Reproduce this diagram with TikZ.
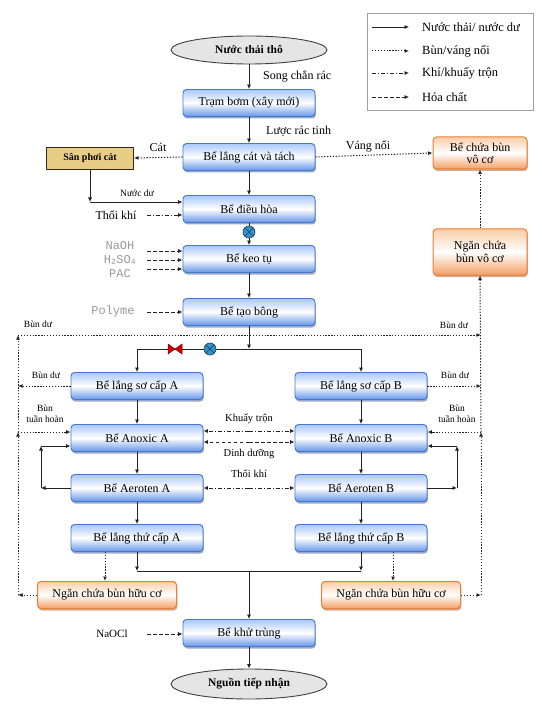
\documentclass[tikz,border=0pt]{standalone}
\usepackage{fontspec}
\setmainfont{Liberation Serif}
\newfontfamily\monofont{Liberation Mono}
\usetikzlibrary{arrows.meta,shapes.geometric,shadows,calc}
\definecolor{bxborder}{RGB}{70,120,205}
\definecolor{bxtop}{RGB}{170,200,250}
\definecolor{bxbot}{RGB}{100,150,232}
\definecolor{orborder}{RGB}{232,128,56}
\definecolor{ortop}{RGB}{250,205,168}
\definecolor{orbot}{RGB}{243,160,100}
\definecolor{sand}{RGB}{232,205,135}
\definecolor{lineclr}{RGB}{35,35,35}
\definecolor{mixfill}{RGB}{40,150,215}
\begin{document}
\begin{tikzpicture}[x=1pt,y=-1pt,
  font=\fontsize{12}{13}\selectfont,
  arr/.style={-{Latex[length=4.5pt,width=4pt]}},
  plain/.style={draw=lineclr,line width=0.75pt},
  flow/.style={plain,arr},
  sludge/.style={draw=lineclr,line width=1pt,dash pattern=on 1.3pt off 1.6pt,arr},
  gas/.style={draw=lineclr,line width=0.75pt,dash pattern=on 4pt off 2pt on 1pt off 2pt,arr},
  chem/.style={draw=lineclr,line width=0.75pt,dash pattern=on 3.5pt off 2.5pt,arr},
  tank/.style={rectangle,rounded corners=3.5pt,draw=bxborder,line width=0.9pt,
    top color=bxtop,bottom color=bxbot,middle color=white,
    minimum width=132pt,minimum height=27pt,inner sep=1pt,
    drop shadow={shadow xshift=0.8pt,shadow yshift=-2pt,fill=bxborder!70!black,opacity=0.5}},
  otank/.style={rectangle,rounded corners=3.5pt,draw=orborder,line width=1pt,
    top color=ortop,bottom color=orbot,middle color=white,align=center,inner sep=1pt,
    font=\fontsize{12}{12.5}\selectfont,
    drop shadow={shadow xshift=0.8pt,shadow yshift=-2pt,fill=orborder!70!black,opacity=0.5}},
  term/.style={ellipse,draw=black!75,line width=0.9pt,fill=gray!20,inner sep=0pt,
    font=\fontsize{11.5}{12}\selectfont\bfseries},
  small/.style={font=\fontsize{9.5}{10.5}\selectfont,inner sep=1pt},
  chemlbl/.style={font=\fontsize{12}{13}\monofont,text=gray!80,inner sep=1pt},
  lbl/.style={inner sep=1pt},
  legtext/.style={anchor=west,font=\fontsize{12.5}{13}\selectfont,inner sep=1pt},
  mixer/.pic={\fill[mixfill] (0,0) circle (6pt);
    \draw[black!80,line width=0.6pt] (0,0) circle (6pt);
    \draw[black!80,line width=0.6pt] (-4.2,-4.2) -- (4.2,4.2) (-4.2,4.2) -- (4.2,-4.2);},
  valve/.pic={\filldraw[fill=red!85!black,draw=red!45!black,line width=0.5pt]
    (-7,-5) -- (0,0) -- (-7,5) -- cycle (7,-5) -- (0,0) -- (7,5) -- cycle;}
]
\useasboundingbox (0,0) rectangle (541,708);

% ---------- legend ----------
\node[draw=gray!75,line width=1.4pt,minimum width=166pt,minimum height=97pt,anchor=north west,inner sep=0pt] (leg) at (367,13) {};
\coordinate (la1) at (372,27); \coordinate (lb1) at (409,27);
\coordinate (la2) at (372,51); \coordinate (lb2) at (409,51);
\coordinate (la3) at (372,73); \coordinate (lb3) at (409,73);
\coordinate (la4) at (372,97); \coordinate (lb4) at (409,97);
\draw[flow] (la1) -- (lb1);
\draw[sludge] (la2) -- (lb2);
\draw[gas] (la3) -- (lb3);
\draw[chem] (la4) -- (lb4);
\node[legtext] (lt1) at (421,27) {Nước thải/ nước dư};
\node[legtext] (lt2) at (421,51) {Bùn/váng nổi};
\node[legtext] (lt3) at (421,73) {Khí/khuấy trộn};
\node[legtext] (lt4) at (421,97) {Hóa chất};

% ---------- main column ----------
\node[term,minimum width=156pt,minimum height=28pt] (src) at (249,50) {Nước thải thô};
\node[tank] (tb) at (249,103) {Trạm bơm (xây mới)};
\node[tank] (lc) at (249,157) {Bể lắng cát và tách};
\node[tank] (dh) at (249,209) {Bể điều hòa};
\node[tank] (kt) at (249,259) {Bể keo tụ};
\node[tank] (tbg) at (249,312) {Bể tạo bông};
\node[tank] (kh) at (249,633) {Bể khử trùng};
\node[term,minimum width=156pt,minimum height=30pt] (out) at (249,684) {Nguồn tiếp nhận};

% side boxes
\node[rectangle,draw=black!70!brown,line width=0.9pt,fill=sand,minimum width=87pt,minimum height=22pt,inner sep=1pt,
  font=\fontsize{10}{11}\selectfont\bfseries,
  drop shadow={shadow xshift=0.8pt,shadow yshift=-1.5pt,fill=black!50,opacity=0.4}] (spc) at (90,158) {Sân phơi cát};
\node[otank,minimum width=94pt,minimum height=32pt] (bcb) at (480,153) {Bể chứa bùn\\vô cơ};
\node[otank,minimum width=94pt,minimum height=46pt] (ncv) at (480,252) {Ngăn chứa\\bùn vô cơ};

% ---------- two lines ----------
\node[tank] (lsA) at (137,386) {Bể lắng sơ cấp A};
\node[tank] (anA) at (137,438) {Bể Anoxic A};
\node[tank] (aeA) at (137,488) {Bể Aeroten A};
\node[tank] (ltA) at (137,538) {Bể lắng thứ cấp A};
\node[tank] (lsB) at (361,386) {Bể lắng sơ cấp B};
\node[tank] (anB) at (361,438) {Bể Anoxic B};
\node[tank] (aeB) at (361,488) {Bể Aeroten B};
\node[tank] (ltB) at (361,538) {Bể lắng thứ cấp B};
\node[otank,minimum width=139pt,minimum height=27pt] (ngA) at (107,595) {Ngăn chứa bùn hữu cơ};
\node[otank,minimum width=139pt,minimum height=27pt] (ngB) at (391,595) {Ngăn chứa bùn hữu cơ};

% ---------- main flow ----------
\draw[flow] (src) -- (tb);
\node[lbl,anchor=west] (l1) at (262,76) {Song chắn rác};
\draw[flow] (tb) -- (lc);
\node[lbl,anchor=west] (l2) at (265,131) {Lược rác tinh};
\draw[sludge] (lc.west) -- (spc.east);
\node[lbl] (l3) at (158,147) {Cát};
\draw[sludge] (lc.east) -- (bcb.west);
\node[lbl] (l4) at (368,146) {Váng nổi};
\draw[flow] (lc) -- (dh);
\coordinate (c1) at (90,202);
\draw[flow] (spc.south) -- (c1);
\draw[flow] (c1) -- (c1 -| dh.west);
\node[small] (l5) at (137,193) {Nước dư};
\coordinate (g1) at (147,215);
\draw[gas] (g1) -- (g1 -| dh.west);
\node[lbl] (l6) at (116,215) {Thổi khí};
\draw[flow] (dh) -- (kt);
\pic at (249,232) {mixer};
% chemicals
\coordinate (h1) at (147,251); \coordinate (h2) at (147,260); \coordinate (h3) at (147,269);
\draw[chem] (h1) -- (h1 -| kt.west);
\draw[chem] (h2) -- (h2 -| kt.west);
\draw[chem] (h3) -- (h3 -| kt.west);
\node[chemlbl] (naoh) at (120,246) {NaOH};
\node[chemlbl] (h2so4) at (120,260) {H\textsubscript{2}SO\textsubscript{4}};
\node[chemlbl] (pac) at (120,274) {PAC};
\draw[flow] (kt) -- (tbg);
\coordinate (p1) at (147,312);
\draw[chem] (p1) -- (p1 -| tbg.west);
\node[chemlbl] (poly) at (113,311) {Polyme};

% split
\coordinate (j1) at (249,349);
\coordinate (jA) at (137,349);
\coordinate (jB) at (361,349);
\draw[flow] (tbg) -- (j1);
\draw[plain] (jA) -- (jB);
\draw[flow] (jA) -- (lsA);
\draw[flow] (jB) -- (lsB);
\pic at (175,349) {valve};
\pic at (210,349) {mixer};

% line A / B vertical flow
\draw[flow] (lsA) -- (anA);
\draw[flow] (anA) -- (aeA);
\draw[flow] (aeA) -- (ltA);
\draw[flow] (lsB) -- (anB);
\draw[flow] (anB) -- (aeB);
\draw[flow] (aeB) -- (ltB);

% internal recirculation
\coordinate (rA1) at (41,488); \coordinate (rA2) at (41,446);
\draw[flow] (aeA.west) -- (rA1);
\draw[flow] (rA1) -- (rA2);
\draw[flow] (rA2) -- (rA2 -| anA.west);
\coordinate (rB1) at (457,488); \coordinate (rB2) at (457,446);
\draw[flow] (aeB.east) -- (rB1);
\draw[flow] (rB1) -- (rB2);
\draw[flow] (rB2) -- (rB2 -| anB.east);

% exchanges between lines
\coordinate (m1) at (249,431); \coordinate (m2) at (249,442); \coordinate (m3) at (249,488);
\draw[gas] (m1) -- (m1 -| anA.east);
\draw[gas] (m1) -- (m1 -| anB.west);
\draw[chem] (m2) -- (m2 -| anA.east);
\draw[chem] (m2) -- (m2 -| anB.west);
\draw[gas] (m3) -- (m3 -| aeA.east);
\draw[gas] (m3) -- (m3 -| aeB.west);
\node[lbl,font=\fontsize{10.5}{11}\selectfont] (l7) at (249,419) {Khuấy trộn};
\node[lbl,font=\fontsize{10.5}{11}\selectfont] (l8) at (249,454) {Dinh dưỡng};
\node[lbl,font=\fontsize{10.5}{11}\selectfont] (l9) at (249,474) {Thổi khí};

% sludge network
\coordinate (sL0) at (18,595); \coordinate (sL1) at (18,432); \coordinate (sL2) at (18,335);
\coordinate (sL3) at (18,386);
\coordinate (sR0) at (481,595); \coordinate (sR1) at (481,432); \coordinate (sR2) at (481,335);
\coordinate (sR3) at (481,386);
\draw[sludge] (ngA.west) -- (sL0);
\draw[sludge] (sL0) -- (sL1);
\draw[sludge] (sL1) -- (sL2);
\draw[sludge] (sL2) -- (sR2);
\draw[sludge] (sL1) -- (sL1 -| anA.west);
\draw[sludge] (lsA.west |- sL3) -- (sL3);
\draw[sludge] (ngB.east) -- (sR0);
\draw[sludge] (sR0) -- (sR1);
\draw[sludge] (sR1) -- (ncv.south);
\draw[sludge] (sR1) -- (sR1 -| anB.east);
\draw[sludge] (lsB.east |- sR3) -- (sR3);
\draw[sludge] (ncv) -- (bcb);
\node[small] (b1) at (38,324) {Bùn dư};
\node[small] (b2) at (46,375) {Bùn dư};
\node[small] (b3) at (454,325) {Bùn dư};
\node[small] (b4) at (455,375) {Bùn dư};
\node[small,align=center,font=\fontsize{9.5}{11}\selectfont] (b5) at (45,414) {Bùn\\tuần hoàn};
\node[small,align=center,font=\fontsize{9.5}{11}\selectfont] (b6) at (457,414) {Bùn\\tuần hoàn};

% secondary clarifiers
\coordinate (xA) at (105,0); \coordinate (xB) at (393,0);
\draw[sludge] (ltA.south -| xA) -- (ngA.north -| xA);
\draw[sludge] (ltB.south -| xB) -- (ngB.north -| xB);
\coordinate (kA) at (137,571); \coordinate (kB) at (361,571); \coordinate (kM) at (249,571);
\draw[flow] (ltA) -- (kA);
\draw[flow] (ltB) -- (kB);
\draw[plain] (kA) -- (kB);
\draw[flow] (kM) -- (kh);

% disinfection
\coordinate (n1) at (147,634);
\draw[chem] (n1) -- (n1 -| kh.west);
\node[lbl,font=\fontsize{11}{12}\selectfont] (naocl) at (112,634) {NaOCl};
\draw[flow] (kh) -- (out);
\end{tikzpicture}
\end{document}
